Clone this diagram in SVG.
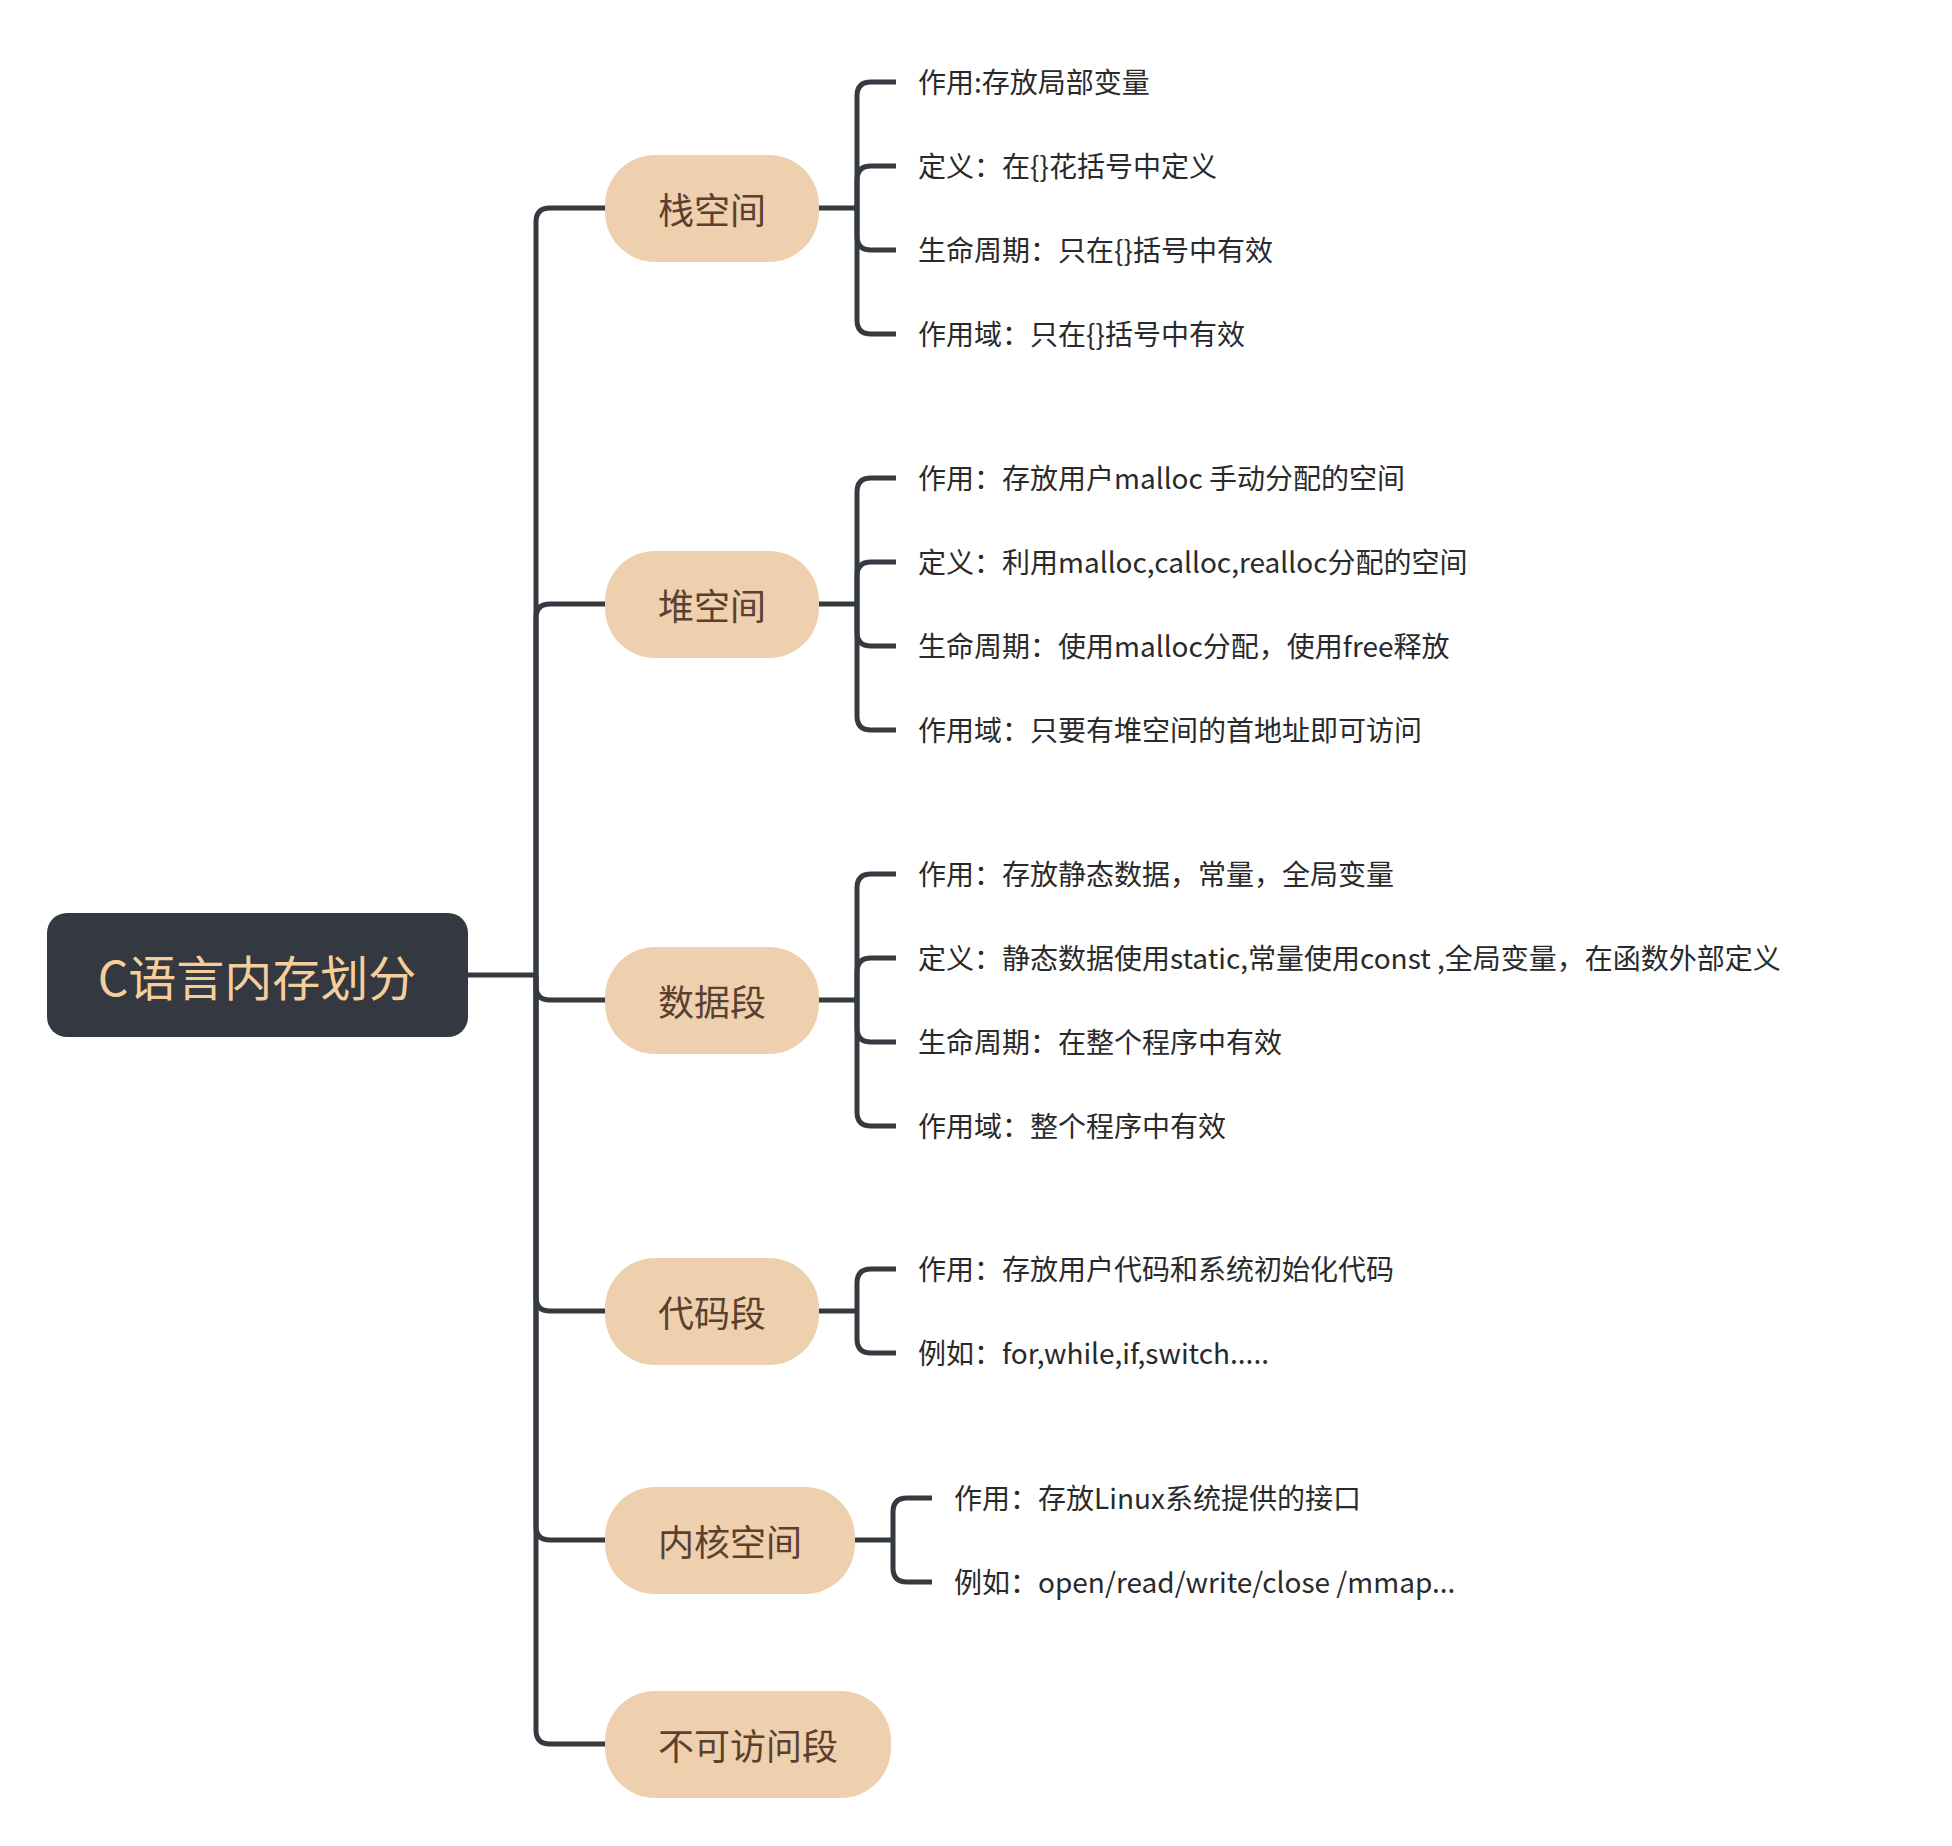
<svg xmlns="http://www.w3.org/2000/svg" width="1952" height="1846" viewBox="0 0 1952 1846">
<style>
.conn{fill:none;stroke:#353a40;stroke-width:5;stroke-linecap:butt}
.sub{fill:#efd0ae}
.subt{font-family:"Noto Sans CJK SC","Noto Sans",sans-serif;font-size:36px;fill:#5b4030;text-anchor:middle;dominant-baseline:central}
.leaf{font-family:"Noto Sans CJK SC","Noto Sans",sans-serif;font-size:28px;fill:#2a2a2a;dominant-baseline:central}
.roott{font-family:"Noto Sans CJK SC","Noto Sans",sans-serif;font-size:48px;fill:#f5cf9b;text-anchor:middle;dominant-baseline:central}
</style>
<rect width="1952" height="1846" fill="#ffffff"/>
<g id="connectors">
<path class="conn" d="M468 975 L536 975"/>
<path class="conn" d="M536 975 L536 222 Q536 208 550 208 L605 208"/>
<path class="conn" d="M536 975 L536 618 Q536 604 550 604 L605 604"/>
<path class="conn" d="M536 975 L536 986 Q536 1000 550 1000 L605 1000"/>
<path class="conn" d="M536 975 L536 1297 Q536 1311 550 1311 L605 1311"/>
<path class="conn" d="M536 975 L536 1526 Q536 1540 550 1540 L605 1540"/>
<path class="conn" d="M536 975 L536 1730 Q536 1744 550 1744 L605 1744"/>
<path class="conn" d="M819 208 L857 208"/>
<path class="conn" d="M857 208 L857 96 Q857 82 871 82 L896 82"/>
<path class="conn" d="M857 208 L857 180 Q857 166 871 166 L896 166"/>
<path class="conn" d="M857 208 L857 236 Q857 250 871 250 L896 250"/>
<path class="conn" d="M857 208 L857 320 Q857 334 871 334 L896 334"/>
<path class="conn" d="M819 604 L857 604"/>
<path class="conn" d="M857 604 L857 492 Q857 478 871 478 L896 478"/>
<path class="conn" d="M857 604 L857 576 Q857 562 871 562 L896 562"/>
<path class="conn" d="M857 604 L857 632 Q857 646 871 646 L896 646"/>
<path class="conn" d="M857 604 L857 716 Q857 730 871 730 L896 730"/>
<path class="conn" d="M819 1000 L857 1000"/>
<path class="conn" d="M857 1000 L857 888 Q857 874 871 874 L896 874"/>
<path class="conn" d="M857 1000 L857 972 Q857 958 871 958 L896 958"/>
<path class="conn" d="M857 1000 L857 1028 Q857 1042 871 1042 L896 1042"/>
<path class="conn" d="M857 1000 L857 1112 Q857 1126 871 1126 L896 1126"/>
<path class="conn" d="M819 1311 L857 1311"/>
<path class="conn" d="M857 1311 L857 1283 Q857 1269 871 1269 L896 1269"/>
<path class="conn" d="M857 1311 L857 1339 Q857 1353 871 1353 L896 1353"/>
<path class="conn" d="M855 1540 L893 1540"/>
<path class="conn" d="M893 1540 L893 1512 Q893 1498 907 1498 L932 1498"/>
<path class="conn" d="M893 1540 L893 1568 Q893 1582 907 1582 L932 1582"/>
</g>
<g id="root">
<rect x="47" y="913" width="421" height="124" rx="20" fill="#343840"/>
<text class="roott" x="257" y="975">C语言内存划分</text>
</g>
<g id="n1">
<rect class="sub" x="605" y="155" width="214" height="107" rx="50"/>
<text class="subt" x="712" y="208">栈空间</text>
</g>
<g id="n1-leaves">
<text class="leaf" x="918" y="81">作用:存放局部变量</text>
<text class="leaf" x="918" y="165">定义：在{}花括号中定义</text>
<text class="leaf" x="918" y="249">生命周期：只在{}括号中有效</text>
<text class="leaf" x="918" y="333">作用域：只在{}括号中有效</text>
</g>
<g id="n2">
<rect class="sub" x="605" y="551" width="214" height="107" rx="50"/>
<text class="subt" x="712" y="604">堆空间</text>
</g>
<g id="n2-leaves">
<text class="leaf" x="918" y="477">作用：存放用户malloc 手动分配的空间</text>
<text class="leaf" x="918" y="561">定义：利用malloc,calloc,realloc分配的空间</text>
<text class="leaf" x="918" y="645">生命周期：使用malloc分配，使用free释放</text>
<text class="leaf" x="918" y="729">作用域：只要有堆空间的首地址即可访问</text>
</g>
<g id="n3">
<rect class="sub" x="605" y="947" width="214" height="107" rx="50"/>
<text class="subt" x="712" y="1000">数据段</text>
</g>
<g id="n3-leaves">
<text class="leaf" x="918" y="873">作用：存放静态数据，常量，全局变量</text>
<text class="leaf" x="918" y="957">定义：静态数据使用static,常量使用const ,全局变量，在函数外部定义</text>
<text class="leaf" x="918" y="1041">生命周期：在整个程序中有效</text>
<text class="leaf" x="918" y="1125">作用域：整个程序中有效</text>
</g>
<g id="n4">
<rect class="sub" x="605" y="1258" width="214" height="107" rx="50"/>
<text class="subt" x="712" y="1311">代码段</text>
</g>
<g id="n4-leaves">
<text class="leaf" x="918" y="1268">作用：存放用户代码和系统初始化代码</text>
<text class="leaf" x="918" y="1352">例如：for,while,if,switch.....</text>
</g>
<g id="n5">
<rect class="sub" x="605" y="1487" width="250" height="107" rx="50"/>
<text class="subt" x="730" y="1540">内核空间</text>
</g>
<g id="n5-leaves">
<text class="leaf" x="954" y="1497">作用：存放Linux系统提供的接口</text>
<text class="leaf" x="954" y="1581">例如：open/read/write/close /mmap...</text>
</g>
<g id="n6">
<rect class="sub" x="605" y="1691" width="286" height="107" rx="50"/>
<text class="subt" x="748" y="1744">不可访问段</text>
</g>
</svg>
